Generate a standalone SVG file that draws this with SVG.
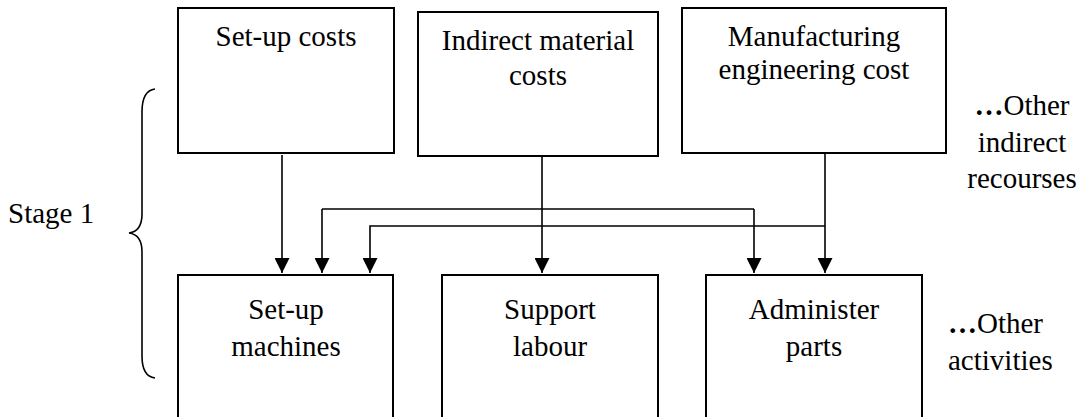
<svg xmlns="http://www.w3.org/2000/svg" width="1082" height="417" viewBox="0 0 1082 417">
  <style>
    .box { fill: #fff; stroke: #000; stroke-width: 2; }
    .lbl { font-family: "Liberation Serif", "Times New Roman", serif; font-size: 29px; fill: #000; text-anchor: middle; }
    .side { font-family: "Liberation Serif", "Times New Roman", serif; font-size: 29px; fill: #000; }
    .conn { fill: none; stroke: #000; stroke-width: 1.6; }
  </style>
  <defs>
    <marker id="arrow" markerUnits="userSpaceOnUse" markerWidth="15" markerHeight="15" refX="15" refY="7.5" orient="auto">
      <path d="M0,0 L15,7.5 L0,15 Z" fill="#000"/>
    </marker>
  </defs>
  <rect width="1082" height="417" fill="#fff"/>

  <g id="connectors">
    <path class="conn" d="M282,155 V273" marker-end="url(#arrow)"/>
    <path class="conn" d="M542,152 V273" marker-end="url(#arrow)"/>
    <path class="conn" d="M825,153 V273" marker-end="url(#arrow)"/>
    <path class="conn" d="M322,209 H754"/>
    <path class="conn" d="M322,209 V273" marker-end="url(#arrow)"/>
    <path class="conn" d="M754,209 V273" marker-end="url(#arrow)"/>
    <path class="conn" d="M825,226 H370 V273" marker-end="url(#arrow)"/>
  </g>

  <g id="setup-costs">
    <rect class="box" x="178" y="8" width="216" height="145"/>
    <text class="lbl" x="286" y="46">Set-up costs</text>
  </g>
  <g id="indirect-material-costs">
    <rect class="box" x="418" y="12" width="240" height="144"/>
    <text class="lbl" x="538" y="50">Indirect material</text>
    <text class="lbl" x="538" y="85">costs</text>
  </g>
  <g id="manufacturing-engineering-cost">
    <rect class="box" x="682" y="8" width="264" height="145"/>
    <text class="lbl" x="814" y="46">Manufacturing</text>
    <text class="lbl" x="814" y="79">engineering cost</text>
  </g>
  <g id="other-resources">
    <text class="lbl" x="1022" y="115"><tspan font-weight="bold">…</tspan>Other</text>
    <text class="lbl" x="1022" y="152">indirect</text>
    <text class="lbl" x="1022" y="188">recourses</text>
  </g>

  <g id="setup-machines">
    <rect class="box" x="178" y="275" width="215" height="150"/>
    <text class="lbl" x="286" y="319">Set-up</text>
    <text class="lbl" x="286" y="356">machines</text>
  </g>
  <g id="support-labour">
    <rect class="box" x="442" y="275" width="216" height="150"/>
    <text class="lbl" x="550" y="319">Support</text>
    <text class="lbl" x="550" y="356">labour</text>
  </g>
  <g id="administer-parts">
    <rect class="box" x="706" y="275" width="216" height="150"/>
    <text class="lbl" x="814" y="319">Administer</text>
    <text class="lbl" x="814" y="356">parts</text>
  </g>
  <g id="other-activities">
    <text class="side" x="948" y="333"><tspan font-weight="bold">…</tspan>Other</text>
    <text class="side" x="948" y="370">activities</text>
  </g>

  <g id="stage1">
    <path class="conn" stroke-width="2" d="M155,89 C146,90 142,98 142,112 V214 C142,226 137,232 129,233 C137,234 142,240 142,252 V356 C142,370 146,377 155,378"/>
    <text class="side" x="8" y="223">Stage 1</text>
  </g>
</svg>
